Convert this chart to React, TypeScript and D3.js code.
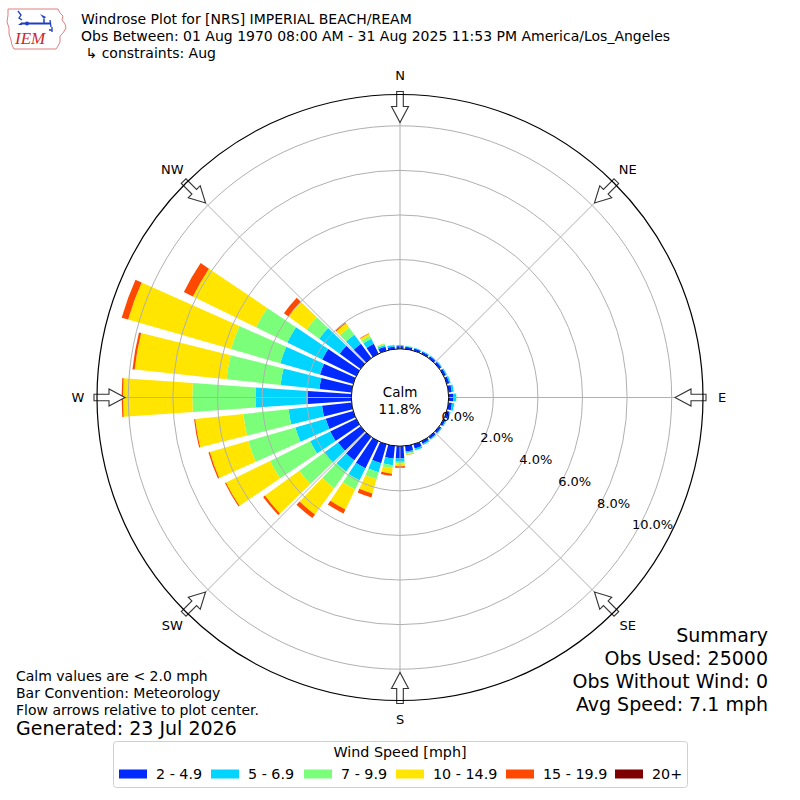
import * as d3 from 'd3';

// wind directions (degrees, meteorological "from")
const DIRECTIONS = [
  0, 10, 20, 30, 40, 50, 60, 70, 80, 90, 100, 110, 120, 130, 140, 150, 160, 170,
  180, 190, 200, 210, 220, 230, 240, 250, 260, 270, 280, 290, 300, 310, 320, 330, 340, 350,
];

// frequency (%) of each speed bin per direction
const PCT_2_5 = [
  0.12, 0.1, 0.1, 0.1, 0.1, 0.1, 0.11, 0.12, 0.15, 0.2, 0.16, 0.12, 0.1, 0.1, 0.11, 0.12, 0.2, 0.25,
  0.55, 0.57, 0.88, 1.35, 1.3, 1.25, 1.3, 1.28, 1.33, 1.95, 1.45, 1.55, 1.7, 1.16, 0.8, 0.5, 0.2, 0.12,
];
const PCT_5_7 = [
  0.05, 0.04, 0.04, 0.04, 0.04, 0.05, 0.05, 0.06, 0.09, 0.13, 0.1, 0.06, 0.05, 0.05, 0.05, 0.06, 0.08, 0.07,
  0.15, 0.3, 0.42, 0.6, 0.62, 0.75, 1.0, 1.42, 1.51, 2.35, 1.75, 1.85, 1.74, 1.14, 0.5, 0.25, 0.07, 0.06,
];
const PCT_7_10 = [
  0.01, 0.01, 0, 0, 0, 0, 0, 0, 0, 0.02, 0.02, 0, 0, 0, 0, 0, 0.02, 0.04,
  0.08, 0.13, 0.33, 0.45, 0.92, 1.4, 2.0, 2.2, 2.04, 2.83, 2.44, 2.3, 1.56, 0.7, 0.4, 0.15, 0.05, 0.02,
];
const PCT_10_15 = [
  0, 0, 0, 0, 0, 0, 0, 0, 0, 0, 0, 0, 0, 0, 0, 0, 0, 0.04,
  0.12, 0.25, 0.67, 1.0, 1.46, 1.9, 2.2, 1.79, 2.17, 3.11, 4.14, 4.8, 3.15, 1.0, 0.23, 0.1, 0.03, 0,
];
const PCT_15_20 = [
  0, 0, 0, 0, 0, 0, 0, 0, 0, 0, 0, 0, 0, 0, 0, 0, 0, 0.01,
  0.07, 0.1, 0.18, 0.2, 0.2, 0.1, 0.05, 0.06, 0.05, 0.06, 0.1, 0.3, 0.45, 0.25, 0.05, 0.02, 0, 0,
];
const PCT_20_UP = [
  0, 0, 0, 0, 0, 0, 0, 0, 0, 0, 0, 0, 0, 0, 0, 0, 0, 0,
  0, 0, 0, 0, 0, 0, 0, 0, 0, 0, 0, 0, 0, 0, 0, 0, 0, 0,
];

const SPEED_BINS = ['2 - 4.9', '5 - 6.9', '7 - 9.9', '10 - 14.9', '15 - 19.9', '20+'];
const SPEED_COLORS = ['#002aff', '#00d4ff', '#7bff7b', '#ffe500', '#ff4800', '#7f0000'];
const RING_TICKS = [0, 2, 4, 6, 8, 10];
const COMPASS_LABELS = ['N', 'NE', 'E', 'SE', 'S', 'SW', 'W', 'NW'];
const COMPASS_ANGLES = [0, 45, 90, 135, 180, 225, 270, 315];
const CALM_PCT = 11.8;

const TITLE_LINES = [
  'Windrose Plot for [NRS] IMPERIAL BEACH/REAM',
  'Obs Between: 01 Aug 1970 08:00 AM - 31 Aug 2025 11:53 PM America/Los_Angeles',
  ' \u21b3 constraints: Aug',
];
const NOTE_LINES = ['Calm values are < 2.0 mph', 'Bar Convention: Meteorology', 'Flow arrows relative to plot center.'];
const SUMMARY_LINES = ['Summary', 'Obs Used: 25000', 'Obs Without Wind: 0', 'Avg Speed: 7.1 mph'];

const FONT = '"DejaVu Sans", sans-serif';

export default function App() {
  const cx = 400;
  const cy = 397.5;
  const outerR = 303;
  const r = d3.scaleLinear().domain([0, 10]).range([48.7, 271.7]);
  const toRad = (deg: number) => (deg * Math.PI) / 180;
  const halfWidth = 4;

  const series = [PCT_2_5, PCT_5_7, PCT_7_10, PCT_10_15, PCT_15_20, PCT_20_UP];
  const rows = DIRECTIONS.map((dir, i) => {
    const row: Record<string, number> = { dir };
    SPEED_BINS.forEach((k, j) => (row[k] = series[j][i]));
    return row;
  });
  const stacked = d3.stack<Record<string, number>>().keys(SPEED_BINS)(rows);
  const arc = d3.arc<any>();

  // hollow arrow pointing toward center, drawn for north then rotated
  const arrowPath = 'M-3.3,-306 L3.3,-306 L3.3,-291 L8.5,-291 L0,-275 L-8.5,-291 L-3.3,-291 Z';

  const ringAngle = toRad(29.2);
  const legendX = [119, 211, 304, 396, 506, 615];

  return (
    <svg width={800} height={800} style={{ position: 'absolute', left: 0, top: 0, background: '#fff' }} fontFamily={FONT}>
      {/* logo */}
      <g>
        <path
          d="M8,9 L58,9 L60,13 L63,16 L62,20 L65,24 L66,28 L63,33 L60,36 L60,42 L58,46 L56,49 L14,49 L12,45 L11,40 L9,34 L9,28 L7,22 L8,15 Z"
          fill="none"
          stroke="#e08080"
          strokeWidth={1}
        />
        <path d="M18,11 L21,15 L19,18 L22,20" fill="none" stroke="#1f3fc0" strokeWidth={1.3} />
        <path d="M18,25 L22,22 L22,25 Z" fill="#1f3fc0" />
        <line x1={22} y1={23.5} x2={50} y2={23.5} stroke="#1f3fc0" strokeWidth={2} />
        <circle cx={27} cy={23.5} r={2} fill="#1f3fc0" />
        <path d="M40,14 L46,17 L44,19 Z" fill="#1f3fc0" />
        <path d="M44,19 L44,23" stroke="#1f3fc0" strokeWidth={1.5} />
        <path d="M50,20 L51,27 M52,27 L52,32 M49,30 L52,30" fill="none" stroke="#1f3fc0" strokeWidth={1.3} />
        <text x={15} y={44} fontFamily='"Liberation Serif", serif' fontStyle="italic" fontSize={17} fill="#d02828">
          IEM
        </text>
      </g>

      {TITLE_LINES.map((t, i) => (
        <text key={t} x={81} y={24 + i * 17} fontSize={14} fill="#000" xmlSpace="preserve">
          {t}
        </text>
      ))}

      <g transform={`translate(${cx},${cy})`}>
        {/* bars */}
        {stacked.map((layer, j) =>
          layer.map((d, i) => {
            if (d[1] - d[0] <= 0) return null;
            const dir = DIRECTIONS[i];
            return (
              <path
                key={`${j}-${i}`}
                d={
                  arc({
                    innerRadius: r(d[0]),
                    outerRadius: r(d[1]),
                    startAngle: toRad(dir - halfWidth),
                    endAngle: toRad(dir + halfWidth),
                  }) ?? ''
                }
                fill={SPEED_COLORS[j]}
              />
            );
          })
        )}

        {/* grid */}
        {RING_TICKS.filter((t) => t > 0).map((t) => (
          <circle key={t} r={r(t)} fill="none" stroke="#b0b0b0" strokeWidth={1} />
        ))}
        {COMPASS_ANGLES.map((a) => (
          <line
            key={a}
            x1={r(0) * Math.sin(toRad(a))}
            y1={-r(0) * Math.cos(toRad(a))}
            x2={outerR * Math.sin(toRad(a))}
            y2={-outerR * Math.cos(toRad(a))}
            stroke="#b0b0b0"
            strokeWidth={1}
          />
        ))}

        {/* calm circle */}
        <circle r={r(0)} fill="#fff" stroke="#000" strokeWidth={1} />
        <text y={-6} textAnchor="middle" dominantBaseline="central" fontSize={13.5}>
          Calm
        </text>
        <text y={11} textAnchor="middle" dominantBaseline="central" fontSize={13.5}>
          {`${CALM_PCT.toFixed(1)}%`}
        </text>

        {/* ring labels */}
        {RING_TICKS.map((t) => (
          <text
            key={t}
            x={r(t) * Math.cos(ringAngle) + 15.4}
            y={r(t) * Math.sin(ringAngle) - 5.2}
            textAnchor="middle"
            dominantBaseline="central"
            fontSize={13}
          >
            {`${t.toFixed(1)}%`}
          </text>
        ))}

        {/* flow arrows */}
        {COMPASS_ANGLES.map((a) => (
          <path key={a} d={arrowPath} transform={`rotate(${a})`} fill="#fff" stroke="#333" strokeWidth={1.1} />
        ))}
        <circle r={outerR} fill="none" stroke="#000" strokeWidth={1.2} />

        {COMPASS_LABELS.map((lab, i) => (
          <text
            key={lab}
            x={322 * Math.sin(toRad(COMPASS_ANGLES[i]))}
            y={-322 * Math.cos(toRad(COMPASS_ANGLES[i]))}
            textAnchor="middle"
            dominantBaseline="central"
            fontSize={13}
          >
            {lab}
          </text>
        ))}
      </g>

      {/* notes */}
      {NOTE_LINES.map((t, i) => (
        <text key={t} x={16} y={681 + i * 17} fontSize={14}>
          {t}
        </text>
      ))}
      <text x={16} y={735} fontSize={19}>
        Generated: 23 Jul 2026
      </text>

      {SUMMARY_LINES.map((t, i) => (
        <text key={t} x={768} y={642 + i * 23} fontSize={19} textAnchor="end">
          {t}
        </text>
      ))}

      {/* legend */}
      <rect x={113.5} y={741.5} width={574} height={46} rx={3} fill="#fff" stroke="#d0d0d0" strokeWidth={1} />
      <text x={400} y={757} textAnchor="middle" fontSize={14.3}>
        Wind Speed [mph]
      </text>
      {SPEED_BINS.map((lab, j) => (
        <g key={lab}>
          <rect x={legendX[j]} y={769.5} width={28} height={9} fill={SPEED_COLORS[j]} />
          <text x={legendX[j] + 37} y={779} fontSize={14.3}>
            {lab}
          </text>
        </g>
      ))}
    </svg>
  );
}
